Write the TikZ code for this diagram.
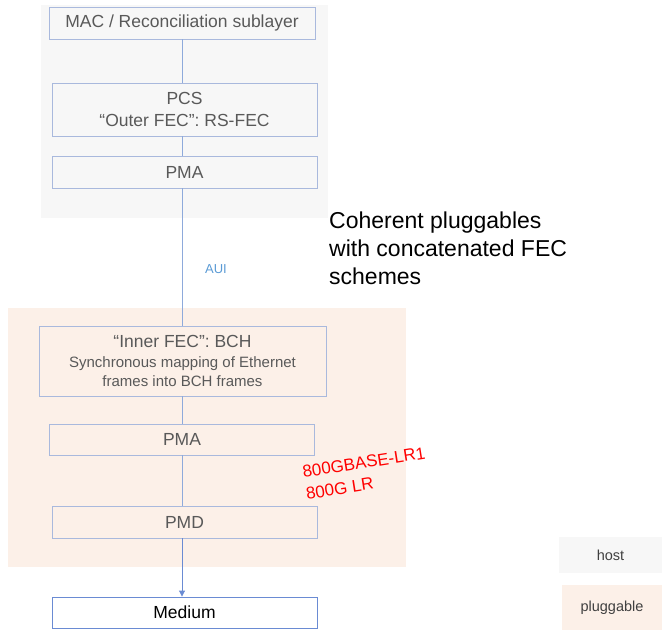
\documentclass[tikz,border=0pt]{standalone}
\usepackage{fontspec}
\setmainfont{Liberation Sans}
\usetikzlibrary{arrows.meta}
\definecolor{hostbg}{HTML}{F7F7F7}
\definecolor{plugbg}{HTML}{FCF0E8}
\definecolor{boxline}{HTML}{A9B9DD}
\definecolor{conn}{HTML}{8EAADB}
\definecolor{auiblue}{HTML}{5B9BD5}
\definecolor{txtgray}{HTML}{595959}
\definecolor{medline}{HTML}{6A8BD3}
\definecolor{legtxt}{HTML}{404040}
\begin{document}
\begin{tikzpicture}[x=1pt,y=-1pt,
  layer/.style={draw=boxline, line width=0.9pt, inner sep=0pt, align=center,
    text=txtgray, font=\fontsize{17.5}{22}\selectfont, minimum width=265pt},
  link/.style={draw=conn, line width=0.9pt},
  legend/.style={inner sep=0pt, text=legtxt, font=\fontsize{14.5}{17}\selectfont},
  redlbl/.style={text=red, font=\fontsize{17}{22}\selectfont, inner sep=0pt, rotate=9, align=left, anchor=north west}
]
\useasboundingbox (0,0) rectangle (662,630);
% backgrounds
\fill[hostbg] (41,5) rectangle (328,218);
\fill[plugbg] (8,308) rectangle (406,567);
% host layers
\node[layer, minimum width=266pt, minimum height=32pt] (mac) at (182,23) {MAC / Reconciliation sublayer};
\node[layer, minimum height=53pt] (pcs) at (184.5,109.5) {PCS\\“Outer FEC”: RS-FEC};
\node[layer, minimum height=32pt] (pma1) at (184.5,172) {PMA};
% pluggable layers
\node[layer, minimum width=287pt, minimum height=70pt, font=\fontsize{15}{19.5}\selectfont] (inner) at (182.5,361)
  {{\fontsize{17.5}{21}\selectfont “Inner FEC”: BCH}\\Synchronous mapping of Ethernet\\frames into BCH frames};
\node[layer, minimum width=265.5pt, minimum height=31pt] (pma2) at (182,439.5) {PMA};
\node[layer, minimum height=32pt] (pmd) at (184.5,522) {PMD};
\node[layer, draw=medline, fill=white, text=black, minimum height=31pt] (medium) at (184.5,612.5) {Medium};
% connectors
\draw[link] (mac.south) -- (mac.south |- pcs.north);
\draw[link] (mac.south |- pcs.south) -- (mac.south |- pma1.north);
\draw[link] (mac.south |- pma1.south) -- (mac.south |- inner.north);
\draw[link] (pma2.north |- inner.south) -- (pma2.north);
\draw[link] (pma2.south) -- (pma2.south |- pmd.north);
\draw[link, draw=medline, -{Triangle[width=6pt,length=6pt]}, fill=medline] (pma2.south |- pmd.south) -- (pma2.south |- medium.north);
% labels
\node[inner sep=0pt, text=auiblue, font=\fontsize{13}{15}\selectfont] (aui) at (216,269) {AUI};
\node[inner sep=0pt, anchor=west, align=left, font=\fontsize{23}{28}\selectfont] (title) at (329,248)
  {Coherent pluggables\\with concatenated FEC\\schemes};
\node[redlbl] (redlabel) at (301.5,466) {800GBASE-LR1\\800G LR};
% legend
\node[legend, fill=hostbg, minimum width=103pt, minimum height=36pt] (host) at (610.5,555) {host};
\node[legend, fill=plugbg, minimum width=100pt, minimum height=45pt] (plug) at (612,607.5) {pluggable};
\end{tikzpicture}
\end{document}
